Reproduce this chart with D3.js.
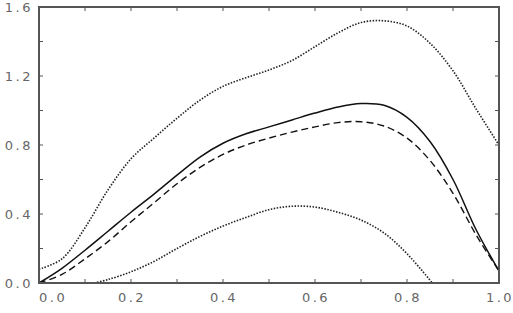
<!DOCTYPE html>
<html>
<head>
<meta charset="utf-8">
<script src="https://cdn.jsdelivr.net/npm/d3@7"></script>
<style>
  body { margin: 0; background: #fff; }
  .tick-label { font-family: "DejaVu Sans", sans-serif; font-size: 13px; fill: #666; letter-spacing: 2.5px; }
</style>
</head>
<body>
<div id="chart"></div>
<script>
// values
let xs = [0, 0.05, 0.1, 0.15, 0.2, 0.25, 0.3, 0.35, 0.4, 0.45, 0.5, 0.55, 0.6, 0.65, 0.7, 0.75, 0.8, 0.85, 0.9, 0.95, 1.0];
let upper = [0.08, 0.14, 0.32, 0.54, 0.72, 0.84, 0.955, 1.06, 1.14, 1.19, 1.235, 1.29, 1.37, 1.45, 1.51, 1.52, 1.49, 1.39, 1.23, 1.01, 0.8];
let solid = [0, 0.085, 0.19, 0.3, 0.41, 0.515, 0.625, 0.73, 0.81, 0.865, 0.905, 0.945, 0.985, 1.02, 1.04, 1.03, 0.96, 0.82, 0.6, 0.31, 0.07];
let dashed = [0, 0.05, 0.14, 0.24, 0.355, 0.465, 0.575, 0.67, 0.745, 0.8, 0.84, 0.875, 0.905, 0.93, 0.935, 0.91, 0.84, 0.71, 0.52, 0.28, 0.07];
let lowerX = [0.12, 0.15, 0.2, 0.25, 0.3, 0.35, 0.4, 0.45, 0.5, 0.55, 0.6, 0.65, 0.7, 0.75, 0.8, 0.855];
let lower = [0, 0.02, 0.065, 0.125, 0.2, 0.27, 0.33, 0.38, 0.425, 0.445, 0.44, 0.41, 0.365, 0.29, 0.17, 0];
let xTicks = [0, 0.2, 0.4, 0.6, 0.8, 1.0];
let yTicks = [0, 0.4, 0.8, 1.2, 1.6];

let width = 513, height = 313;
let margin = {top: 7, right: 14, bottom: 30, left: 39};

let svg = d3.select("#chart").append("svg")
    .attr("width", width)
    .attr("height", height);

let x = d3.scaleLinear().domain([0, 1]).range([margin.left, width - margin.right]);
let y = d3.scaleLinear().domain([0, 1.6]).range([height - margin.bottom, margin.top]);

svg.append("clipPath").attr("id", "plot")
    .append("rect")
    .attr("x", x(0)).attr("y", y(1.6))
    .attr("width", x(1) - x(0)).attr("height", y(0) - y(1.6));

let line = d3.line()
    .x(function(d) { return x(d[0]); })
    .y(function(d) { return y(d[1]); })
    .curve(d3.curveCatmullRom);

let g = svg.append("g").attr("clip-path", "url(#plot)");

g.append("path")
    .datum(xs.map(function(v, i) { return [v, upper[i]]; }))
    .attr("d", line)
    .attr("fill", "none").attr("stroke", "#222").attr("stroke-width", 1.6)
    .attr("stroke-dasharray", "1.5,1.5");

g.append("path")
    .datum(lowerX.map(function(v, i) { return [v, lower[i]]; }))
    .attr("d", line)
    .attr("fill", "none").attr("stroke", "#222").attr("stroke-width", 1.6)
    .attr("stroke-dasharray", "1.5,1.5");

g.append("path")
    .datum(xs.map(function(v, i) { return [v, dashed[i]]; }))
    .attr("d", line)
    .attr("fill", "none").attr("stroke", "#111").attr("stroke-width", 1.4)
    .attr("stroke-dasharray", "7,4");

g.append("path")
    .datum(xs.map(function(v, i) { return [v, solid[i]]; }))
    .attr("d", line)
    .attr("fill", "none").attr("stroke", "#111").attr("stroke-width", 1.5);

// ticks on all four sides, pointing inward
let tickLen = 4;
let xMinor = d3.range(0, 1.0001, 0.1);
let yMinor = d3.range(0, 1.6001, 0.2);

xMinor.forEach(function(v) {
    svg.append("line").attr("x1", x(v)).attr("x2", x(v))
        .attr("y1", y(0)).attr("y2", y(0) - tickLen)
        .attr("stroke", "#555").attr("stroke-width", 1);
    svg.append("line").attr("x1", x(v)).attr("x2", x(v))
        .attr("y1", y(1.6)).attr("y2", y(1.6) + tickLen)
        .attr("stroke", "#555").attr("stroke-width", 1);
});
yMinor.forEach(function(v) {
    svg.append("line").attr("x1", x(0)).attr("x2", x(0) + tickLen)
        .attr("y1", y(v)).attr("y2", y(v))
        .attr("stroke", "#555").attr("stroke-width", 1);
    svg.append("line").attr("x1", x(1)).attr("x2", x(1) - tickLen)
        .attr("y1", y(v)).attr("y2", y(v))
        .attr("stroke", "#555").attr("stroke-width", 1);
});

// frame
svg.append("rect")
    .attr("x", x(0)).attr("y", y(1.6))
    .attr("width", x(1) - x(0)).attr("height", y(0) - y(1.6))
    .attr("fill", "none").attr("stroke", "#555").attr("stroke-width", 2);

svg.selectAll(".xlab")
    .data(xTicks)
    .enter().append("text")
    .attr("class", "tick-label")
    .attr("x", function(d, i) { return i === 0 ? x(d) : x(d) + 1; })
    .attr("y", y(0) + 19)
    .attr("text-anchor", function(d, i) { return i === 0 ? "start" : "middle"; })
    .text(function(d) { return d.toFixed(1); });

svg.selectAll(".ylab")
    .data(yTicks)
    .enter().append("text")
    .attr("class", "tick-label")
    .attr("x", 33)
    .attr("y", function(d) { return y(d); })
    .attr("dy", "0.36em")
    .attr("text-anchor", "end")
    .text(function(d) { return d.toFixed(1); });
</script>
</body>
</html>
